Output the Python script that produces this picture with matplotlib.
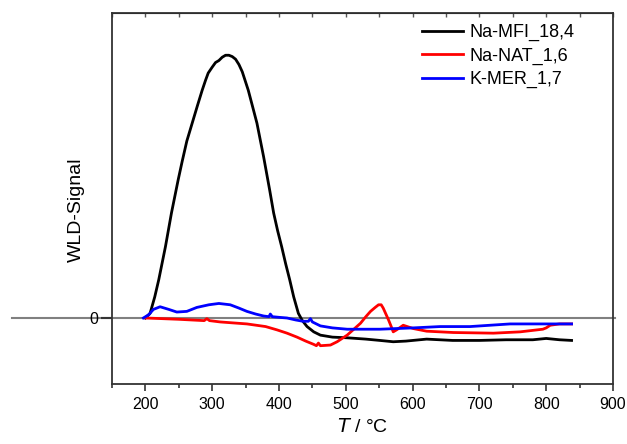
import matplotlib
matplotlib.use("Agg")
import matplotlib.pyplot as plt
from matplotlib.ticker import MultipleLocator

plt.rcParams['font.family'] = ['Liberation Sans', 'DejaVu Sans']

# Na-MFI_18,4
t_mfi = [200, 207, 214, 220, 230, 239, 249, 255, 262, 270, 278, 285, 290, 294, 300, 305, 310, 315, 320,
         325, 330, 335, 340, 345, 354, 360, 367, 377, 386, 392, 398, 404, 410, 416, 422, 429, 435, 442,
         452, 462, 480, 502, 530, 551, 571, 590, 621, 660, 700, 740, 780, 800, 820, 838]
s_mfi = [0.0, 0.07, 0.32, 0.58, 1.08, 1.59, 2.09, 2.37, 2.68, 2.95, 3.22, 3.45, 3.60, 3.71, 3.80, 3.87, 3.90, 3.95, 3.98,
         3.98, 3.96, 3.92, 3.84, 3.73, 3.45, 3.22, 2.95, 2.44, 1.94, 1.59, 1.32, 1.08, 0.82, 0.58, 0.32, 0.07, -0.04, -0.13,
         -0.21, -0.26, -0.29, -0.30, -0.32, -0.34, -0.36, -0.35, -0.32, -0.34, -0.34, -0.33, -0.33, -0.31, -0.33, -0.34]

# Na-NAT_1,6
t_nat = [200, 250, 288, 292, 296, 312, 352, 380, 397, 412, 427, 440, 452, 456, 459, 462, 477, 487,
         502, 512, 522, 530, 537, 544, 549, 553, 556, 560, 564, 568, 571, 576, 586, 601, 621, 661,
         721, 761, 795, 800, 806, 820, 838]
s_nat = [0.0, -0.02, -0.04, -0.01, -0.04, -0.06, -0.09, -0.13, -0.18, -0.23, -0.29, -0.35, -0.40, -0.42, -0.38,
         -0.42, -0.41, -0.36, -0.26, -0.17, -0.08, 0.02, 0.10, 0.16, 0.20, 0.20, 0.15, 0.06, -0.03, -0.13,
         -0.21, -0.18, -0.11, -0.16, -0.20, -0.22, -0.23, -0.21, -0.17, -0.15, -0.11, -0.09, -0.09]

# K-MER_1,7
t_mer = [197, 205, 212, 222, 235, 247, 262, 277, 295, 310, 327, 340, 352, 365, 377, 385, 387, 390,
         400, 412, 425, 436, 444, 447, 450, 462, 480, 502, 551, 601, 641, 686, 746, 790, 838]
s_mer = [0.0, 0.05, 0.13, 0.17, 0.13, 0.09, 0.10, 0.16, 0.20, 0.22, 0.20, 0.15, 0.10, 0.06, 0.03, 0.02, 0.06, 0.02,
         0.01, 0.0, -0.03, -0.05, -0.05, -0.01, -0.06, -0.12, -0.15, -0.17, -0.17, -0.15, -0.13, -0.13, -0.09, -0.09, -0.09]

x_ticks = [200, 300, 400, 500, 600, 700, 800, 900]

fig = plt.figure(figsize=(6.27, 4.44), dpi=100)
ax = fig.add_axes([112 / 627, 1 - 384 / 444, 501 / 627, 371 / 444])

# zero baseline running across the whole left margin
ax.plot([-100 / 501, 503 / 501], [0, 0], transform=ax.get_yaxis_transform(),
        color='#808080', lw=1.5, clip_on=False, zorder=1)

lw = 2.0
ax.plot(t_mfi, s_mfi, color='black', lw=lw, label='Na-MFI_18,4', zorder=3)
ax.plot(t_nat, s_nat, color='#ff0000', lw=lw, label='Na-NAT_1,6', zorder=3)
ax.plot(t_mer, s_mer, color='#0000ff', lw=lw, label='K-MER_1,7', zorder=4)

ax.set_xlim(150, 900)
ax.set_ylim(-1, 4.62)
ax.set_xticks(x_ticks)
ax.xaxis.set_minor_locator(MultipleLocator(50))
ax.set_yticks([0])
ax.set_yticklabels(['0'])

for sp in ax.spines.values():
    sp.set_color('#333333')
    sp.set_linewidth(1.3)

ax.tick_params(axis='x', which='major', direction='out', length=5, width=1.2,
               colors='#333333', labelcolor='black', labelsize=11.5, pad=4)
ax.tick_params(axis='x', which='minor', direction='out', length=3, width=1.2, colors='#333333')
ax.tick_params(axis='y', direction='out', length=8, width=1.5, colors='#333333',
               labelcolor='black', labelsize=11.5, pad=2)

# inward ticks along the top edge
top = ax.secondary_xaxis('top')
top.set_xticks(list(range(150, 901, 50)))
top.tick_params(direction='in', length=3, width=1.0, colors='#555555', labeltop=False)
top.set_xticklabels([])

ax.set_xlabel(r'$\it{T}$ / °C', fontsize=14, labelpad=5)
ax.set_ylabel('WLD-Signal', fontsize=14)
ax.yaxis.set_label_coords((85 - 112) / 501, 0.47)

ax.legend(loc='upper right', frameon=False, fontsize=13, handlelength=2.3,
          handletextpad=0.35, labelspacing=0.35, borderaxespad=0.2,
          bbox_to_anchor=(0.945, 1.0))

fig.savefig('out.png', dpi=100)
